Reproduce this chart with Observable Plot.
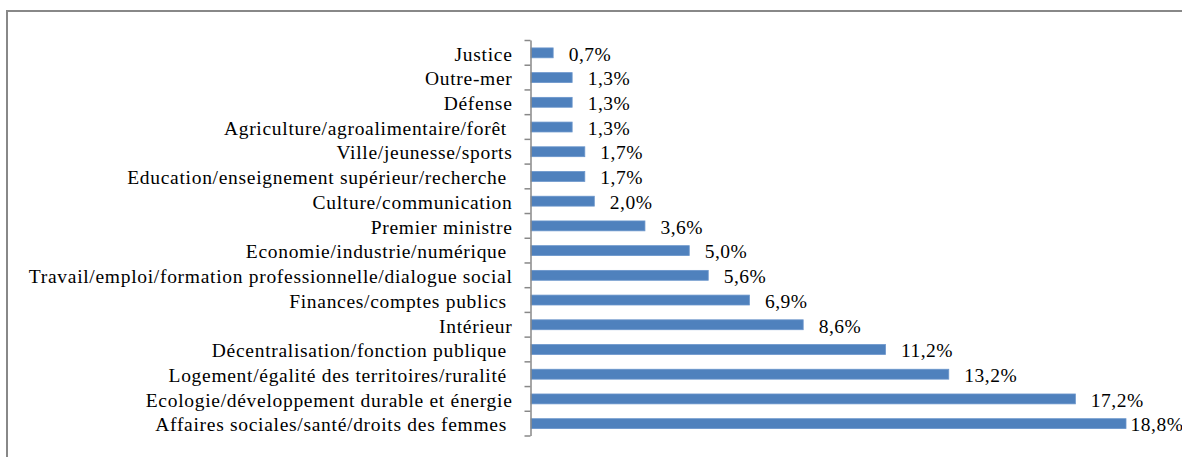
<!DOCTYPE html>
<html>
<head>
<meta charset="utf-8">
<script src="https://cdn.jsdelivr.net/npm/d3@7"></script>
<script src="https://cdn.jsdelivr.net/npm/@observablehq/plot@0.6"></script>
<style>
  html, body { margin: 0; padding: 0; background: #fff; }
  #chart { position: relative; width: 1182px; height: 457px; overflow: hidden; }
  #chart svg, #chart svg text { font-family: "Liberation Serif", "Times New Roman", serif !important; }
  #chart svg g.cat text { letter-spacing: 0.7px; }
  #chart svg g.val text { letter-spacing: 0.5px; }
</style>
</head>
<body>
<div id="chart"></div>
<script>
const categories = [
  "Justice",
  "Outre-mer",
  "Défense",
  "Agriculture/agroalimentaire/forêt\u00a0",
  "Ville/jeunesse/sports",
  "Education/enseignement supérieur/recherche\u00a0",
  "Culture/communication",
  "Premier ministre",
  "Economie/industrie/numérique\u00a0",
  "Travail/emploi/formation professionnelle/dialogue social",
  "Finances/comptes publics\u00a0",
  "Intérieur",
  "Décentralisation/fonction publique\u00a0",
  "Logement/égalité des territoires/ruralité\u00a0",
  "Ecologie/développement durable et énergie",
  "Affaires sociales/santé/droits des femmes\u00a0"
];
const values = [0.7, 1.3, 1.3, 1.3, 1.7, 1.7, 2.0, 3.6, 5.0, 5.6, 6.9, 8.6, 11.2, 13.2, 17.2, 18.8];
const valueLabels = ["0,7%", "1,3%", "1,3%", "1,3%", "1,7%", "1,7%", "2,0%", "3,6%", "5,0%", "5,6%", "6,9%", "8,6%", "11,2%", "13,2%", "17,2%", "18,8%"];

const data = categories.map((c, i) => ({category: c, value: values[i], label: valueLabels[i]}));
const maxV = d3.max(values);

const font = "Liberation Serif";

const chart = Plot.plot({
  width: 1182,
  height: 457,
  marginLeft: 531,
  marginRight: 56,
  marginTop: 40.5,
  marginBottom: 21,
  style: {fontFamily: font, background: "transparent", overflow: "visible"},
  x: {domain: [0, maxV], axis: null},
  y: {domain: categories, paddingInner: 0.6, paddingOuter: 0.3, round: false, axis: null},
  marks: [
    Plot.barX(data, {x: "value", y: "category", fill: "#4F81BD", stroke: "#6A95CB", strokeWidth: 0.8}),
    Plot.text(data.filter(d => d.value !== maxV), {x: "value", y: "category", text: "label", textAnchor: "start", dx: 15, dy: 1, fontSize: 19.5, fontFamily: font, fill: "#000", className: "val"}),
    Plot.text(data.filter(d => d.value === maxV), {x: "value", y: "category", text: "label", textAnchor: "start", dx: 4, dy: 1, fontSize: 19.5, fontFamily: font, fill: "#000", className: "val"}),
    Plot.text(data, {x: 0, y: "category", text: "category", textAnchor: "end", dx: -19, dy: 1, fontSize: 19.5, fontFamily: font, fill: "#000", className: "cat"}),
    Plot.ruleX([0], {stroke: "#888", strokeWidth: 1.5, dx: -0.5})
  ]
});

// category boundary ticks, positioned from the library's y scale
const ys = chart.scale("y");
const xs = chart.scale("x");
const svg = d3.select(chart);
const step = ys.step;
const bounds = categories.map(c => ys.apply(c) - (step - ys.bandwidth) / 2);
bounds.push(bounds[bounds.length - 1] + step);
const x0 = xs.apply(0) - 0.5;
svg.append("g").selectAll("line").data(bounds).join("line")
  .attr("x1", x0 - 6).attr("x2", x0)
  .attr("y1", d => d).attr("y2", d => d)
  .attr("stroke", "#888").attr("stroke-width", 1.5);

// outer chart border
svg.append("rect")
  .attr("x", 7).attr("y", 11).attr("width", 1300).attr("height", 600)
  .attr("fill", "none").attr("stroke", "#888").attr("stroke-width", 2);

document.getElementById("chart").appendChild(chart);
</script>
</body>
</html>
